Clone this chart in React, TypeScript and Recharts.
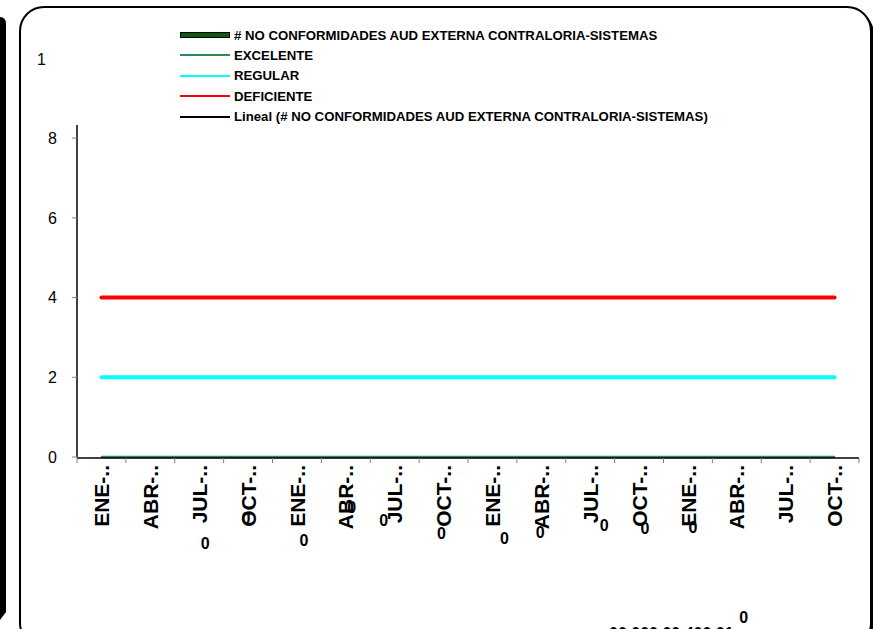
import React from "react";
import { LineChart, Line, XAxis, YAxis, LabelList } from "recharts";

const CATEGORIES = [
  "ENE-..", "ABR-..", "JUL-..", "OCT-..",
  "ENE-..", "ABR-..", "JUL-..", "OCT-..",
  "ENE-..", "ABR-..", "JUL-..", "OCT-..",
  "ENE-..", "ABR-..", "JUL-..", "OCT-..",
];
const NO_CONFORMIDADES = [0, 0, 0, 0, 0, 0, 0, 0, 0, 0, 0, 0, 0, 0, 0, 0];
const EXCELENTE = [0, 0, 0, 0, 0, 0, 0, 0, 0, 0, 0, 0, 0, 0, 0, 0];
const REGULAR = [2, 2, 2, 2, 2, 2, 2, 2, 2, 2, 2, 2, 2, 2, 2, 2];
const DEFICIENTE = [4, 4, 4, 4, 4, 4, 4, 4, 4, 4, 4, 4, 4, 4, 4, 4];
const LINEAL = [0, 0, 0, 0, 0, 0, 0, 0, 0, 0, 0, 0, 0, 0, 0, 0];
const Y_TICKS = [0, 2, 4, 6, 8];
const CHART_LABEL = "1";
const TREND_TEXT = "00.000 00.400 01";

const SERIES_NAMES = {
  nc: "# NO CONFORMIDADES AUD EXTERNA CONTRALORIA-SISTEMAS",
  exc: "EXCELENTE",
  reg: "REGULAR",
  def: "DEFICIENTE",
  lin: "Lineal (# NO CONFORMIDADES AUD EXTERNA CONTRALORIA-SISTEMAS)",
};

const data = CATEGORIES.map((cat, i) => ({
  x: i + 0.5,
  cat,
  nc: NO_CONFORMIDADES[i],
  exc: EXCELENTE[i],
  reg: REGULAR[i],
  def: DEFICIENTE[i],
  lin: LINEAL[i],
}));

const FONT = "'Liberation Sans', Arial, Helvetica, sans-serif";
const W = 873;
const H = 629;

// styling: scattered data-label offsets (dx, dy of glyph centre from the point)
const LABEL_OFFSETS: ([number, number] | null)[] = [
  null, null, [6, 86], [-2, 61], [7, 83], [6, 50], [-11, 63], [-2, 76],
  [12, 81], [-1, 75], [14, 68], [6, 71], [5, 70], [7, 160], null, null,
];

const boundaryTicks = Array.from({ length: CATEGORIES.length + 1 }, (_, i) => i);
const centerTicks = CATEGORIES.map((_, i) => i + 0.5);

const EmptyTick = () => <g />;

const CatTick = (props: any) => {
  const { x, y, payload } = props;
  const idx = Math.floor(payload.value);
  const label = CATEGORIES[idx] ?? "";
  return (
    <g transform={`translate(${x},${y + 8})`}>
      <text
        transform="rotate(-90)"
        x={0}
        y={0}
        dy="0.36em"
        textAnchor="end"
        fontFamily={FONT}
        fontSize={21}
        fontWeight="bold"
        fill="#000"
      >
        {label}
      </text>
    </g>
  );
};

const ZeroLabel = (props: any) => {
  const { x, y, index, value } = props;
  const off = LABEL_OFFSETS[index];
  if (!off) return null;
  return (
    <text
      x={x + off[0]}
      y={y + off[1] + 6}
      textAnchor="middle"
      fontFamily={FONT}
      fontSize={16}
      fontWeight="bold"
      fill="#000"
    >
      {value}
    </text>
  );
};

const LEGEND = [
  { key: "nc", color: "#0b5e0b", thick: true },
  { key: "exc", color: "#2e8b57", thick: false },
  { key: "reg", color: "#00ffff", thick: false },
  { key: "def", color: "#ff0000", thick: false },
  { key: "lin", color: "#000000", thick: false },
];

export default function App() {
  return (
    <div style={{ position: "relative", width: W, height: H, overflow: "hidden", background: "#fff" }}>
      <style>{"body{margin:0}"}</style>
      <svg width={W} height={H} style={{ position: "absolute", left: 0, top: 0 }}>
        {/* neighbouring chart border at left */}
        <path d="M -20 17 L 0 17 Q 6 17 6 24 L 6 612 L 0 620 L -20 620 Z" fill="#000" />
        {/* shadow + rounded frame */}
        <rect x={23} y={10} width={851} height={640} rx={24} ry={24} fill="#000" />
        <rect x={20} y={7} width={851} height={640} rx={24} ry={24} fill="#fff" stroke="#000" strokeWidth={2} />
      </svg>
      <div style={{ position: "absolute", left: 0, top: 0 }}>
        <LineChart
          width={W}
          height={H}
          data={data}
          margin={{ top: 125, right: 14, bottom: 170, left: 0 }}
        >
          <XAxis
            xAxisId="t"
            type="number"
            dataKey="x"
            domain={[0, CATEGORIES.length]}
            ticks={boundaryTicks}
            interval={0}
            height={1}
            tick={EmptyTick}
            tickSize={5}
            tickLine={{ stroke: "#808080" }}
            axisLine={{ stroke: "#000", strokeWidth: 1.5 }}
          />
          <XAxis
            xAxisId="l"
            type="number"
            dataKey="x"
            domain={[0, CATEGORIES.length]}
            ticks={centerTicks}
            interval={0}
            height={1}
            tick={CatTick}
            tickSize={0}
            tickMargin={0}
            tickLine={false}
            axisLine={false}
          />
          <YAxis
            type="number"
            domain={[0, 8.33]}
            ticks={Y_TICKS}
            interval={0}
            width={77}
            tickSize={5}
            tickMargin={15}
            tick={{ fontSize: 16, fill: "#000", fontFamily: FONT }}
            tickLine={{ stroke: "#808080" }}
            axisLine={{ stroke: "#000", strokeWidth: 1.5 }}
          />
          <Line xAxisId="t" type="linear" dataKey="lin" name={SERIES_NAMES.lin} stroke="#000" strokeWidth={1.5} dot={false} isAnimationActive={false} />
          <Line xAxisId="t" type="linear" dataKey="nc" name={SERIES_NAMES.nc} stroke="#0b5e0b" strokeWidth={2} dot={false} isAnimationActive={false}>
            <LabelList dataKey="nc" content={ZeroLabel} />
          </Line>
          <Line xAxisId="t" type="linear" dataKey="exc" name={SERIES_NAMES.exc} stroke="#2e8b57" strokeWidth={2.5} dot={false} isAnimationActive={false} />
          <Line xAxisId="t" type="linear" dataKey="reg" name={SERIES_NAMES.reg} stroke="#00ffff" strokeWidth={4} strokeLinecap="round" dot={false} isAnimationActive={false} />
          <Line xAxisId="t" type="linear" dataKey="def" name={SERIES_NAMES.def} stroke="#ff0000" strokeWidth={4} strokeLinecap="round" dot={false} isAnimationActive={false} />
        </LineChart>
      </div>
      <svg width={W} height={H} style={{ position: "absolute", left: 0, top: 0, pointerEvents: "none" }}>
        <text x={37} y={65} fontFamily={FONT} fontSize={16} fill="#000">{CHART_LABEL}</text>
        <text x={609} y={639} fontFamily={FONT} fontSize={16} fontWeight="bold" fill="#000">{TREND_TEXT}</text>
      </svg>
      {LEGEND.map((item, i) => (
        <div
          key={item.key}
          style={{ position: "absolute", left: 180, top: 35 + i * 20.4 - 8, height: 16, display: "flex", alignItems: "center" }}
        >
          <div
            style={{
              width: item.thick ? 48 : 50,
              height: item.thick ? 4 : 2,
              background: item.color,
              border: item.thick ? "1px solid #000" : "none",
            }}
          />
          <span
            style={{
              marginLeft: 4,
              fontFamily: FONT,
              fontSize: 13.2,
              fontWeight: "bold",
              color: "#000",
              whiteSpace: "nowrap",
            }}
          >
            {SERIES_NAMES[item.key as keyof typeof SERIES_NAMES]}
          </span>
        </div>
      ))}
    </div>
  );
}
